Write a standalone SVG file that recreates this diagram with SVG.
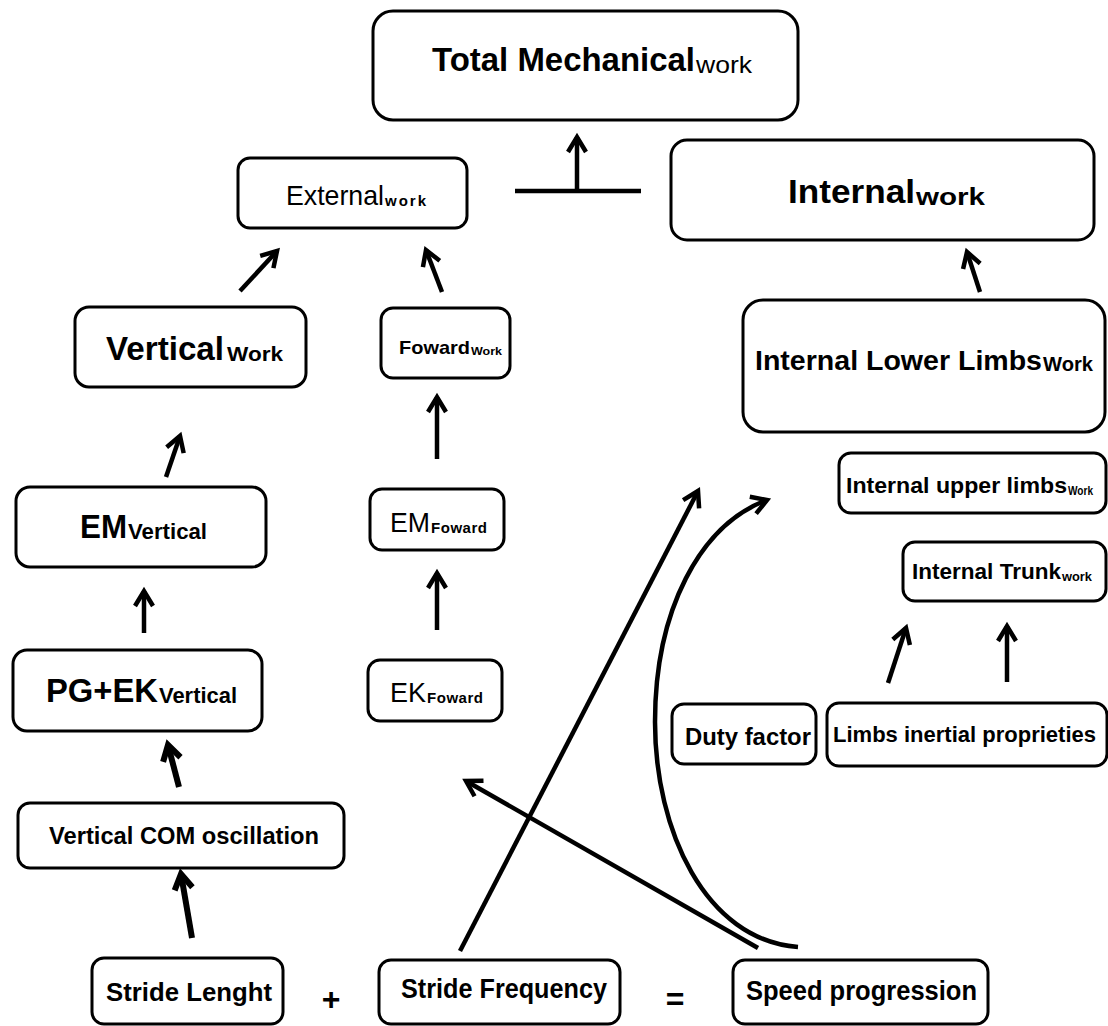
<svg xmlns="http://www.w3.org/2000/svg" width="1108" height="1026" viewBox="0 0 1108 1026">
<style>
.box{fill:#fff;stroke:#000;stroke-width:3}
.t{font-family:"Liberation Sans",Arial,sans-serif;fill:#000}
.b{font-weight:bold}
.c{fill:none;stroke:#000;stroke-width:4.5;stroke-linecap:butt}
.c6{fill:none;stroke:#000;stroke-width:6}
</style>
<defs>
<marker id="ah" markerUnits="userSpaceOnUse" orient="auto" overflow="visible" refX="0" refY="0" markerWidth="30" markerHeight="30">
<path d="M -15 -9 L 0 0 L -15 9" fill="none" stroke="#000" stroke-width="4.5"/>
</marker>
<marker id="ah6" markerUnits="userSpaceOnUse" orient="auto" overflow="visible" refX="0" refY="0" markerWidth="30" markerHeight="30">
<path d="M -15 -9 L 0 0 L -15 9" fill="none" stroke="#000" stroke-width="6"/>
</marker>
</defs>
<rect width="1108" height="1026" fill="#fff"/>

<g id="connectors">
<line class="c" x1="515" y1="191" x2="641" y2="191"/>
<line class="c" x1="577" y1="191" x2="577" y2="137" marker-end="url(#ah)"/>
<line class="c" x1="240" y1="291" x2="277" y2="251" marker-end="url(#ah)"/>
<line class="c" x1="442" y1="292" x2="426" y2="250" marker-end="url(#ah)"/>
<line class="c" x1="980" y1="292" x2="967" y2="252" marker-end="url(#ah)"/>
<line class="c" x1="166" y1="477" x2="180" y2="436" marker-end="url(#ah)"/>
<line class="c" x1="437" y1="459" x2="437" y2="397" marker-end="url(#ah)"/>
<line class="c" x1="144" y1="633" x2="144" y2="591" marker-end="url(#ah)"/>
<line class="c" x1="437" y1="630" x2="437" y2="573" marker-end="url(#ah)"/>
<line class="c6" x1="179" y1="787" x2="168" y2="745" marker-end="url(#ah6)"/>
<line class="c6" x1="192" y1="938" x2="181" y2="874" marker-end="url(#ah6)"/>
<line class="c" x1="888" y1="683" x2="906" y2="628" marker-end="url(#ah)"/>
<line class="c" x1="1007" y1="682" x2="1007" y2="626" marker-end="url(#ah)"/>
<line class="c" x1="460" y1="951" x2="698" y2="491" marker-end="url(#ah)"/>
<line class="c" x1="758" y1="948" x2="466" y2="781" marker-end="url(#ah)"/>
<path class="c" d="M 798 947 C 705 940, 655 830, 655 722 C 655 610, 700 525, 767 500" marker-end="url(#ah)"/>
</g>

<g id="total">
<rect class="box" x="373" y="11" width="425" height="109" rx="20"/>
<text class="t" y="71"><tspan x="432" font-size="33" font-weight="bold" textLength="263" lengthAdjust="spacingAndGlyphs">Total Mechanical</tspan><tspan x="696" y="73" font-size="24" textLength="56" lengthAdjust="spacingAndGlyphs">work</tspan></text>
</g>
<g id="external">
<rect class="box" x="238" y="158" width="229" height="70" rx="12"/>
<text class="t" y="205"><tspan x="286" font-size="28" textLength="98" lengthAdjust="spacingAndGlyphs">External</tspan><tspan x="385" y="206" font-size="15" font-weight="bold" textLength="41">work</tspan></text>
</g>
<g id="internal">
<rect class="box" x="671" y="140" width="423" height="100" rx="16"/>
<text class="t b" y="203"><tspan x="788" font-size="34" textLength="127" lengthAdjust="spacingAndGlyphs">Internal</tspan><tspan x="916" y="205" font-size="23" textLength="69" lengthAdjust="spacingAndGlyphs">work</tspan></text>
</g>
<g id="vertical-work">
<rect class="box" x="75" y="307" width="231" height="80" rx="14"/>
<text class="t b" y="360"><tspan x="106" font-size="33" textLength="118" lengthAdjust="spacingAndGlyphs">Vertical</tspan><tspan x="227" y="361" font-size="21" textLength="56" lengthAdjust="spacingAndGlyphs">Work</tspan></text>
</g>
<g id="foward-work">
<rect class="box" x="381" y="308" width="129" height="70" rx="12"/>
<text class="t b" y="354"><tspan x="399" font-size="19" textLength="71" lengthAdjust="spacingAndGlyphs">Foward</tspan><tspan x="471" y="355" font-size="11" textLength="31" lengthAdjust="spacingAndGlyphs">Work</tspan></text>
</g>
<g id="internal-lower">
<rect class="box" x="743" y="300" width="362" height="132" rx="20"/>
<text class="t b" y="370"><tspan x="755" font-size="28" textLength="287" lengthAdjust="spacingAndGlyphs">Internal Lower Limbs</tspan><tspan x="1043" y="371" font-size="20" textLength="50" lengthAdjust="spacingAndGlyphs">Work</tspan></text>
</g>
<g id="em-vertical">
<rect class="box" x="16" y="487" width="250" height="80" rx="14"/>
<text class="t b" y="538"><tspan x="80" font-size="33" textLength="47" lengthAdjust="spacingAndGlyphs">EM</tspan><tspan x="128" y="539" font-size="22" textLength="79" lengthAdjust="spacingAndGlyphs">Vertical</tspan></text>
</g>
<g id="em-foward">
<rect class="box" x="370" y="489" width="134" height="61" rx="12"/>
<text class="t" y="532"><tspan x="390" font-size="27" textLength="40" lengthAdjust="spacingAndGlyphs">EM</tspan><tspan x="431" y="533" font-size="15" font-weight="bold" textLength="56">Foward</tspan></text>
</g>
<g id="internal-upper">
<rect class="box" x="839" y="453" width="267" height="60" rx="12"/>
<text class="t b" y="493"><tspan x="846" font-size="22" textLength="221" lengthAdjust="spacingAndGlyphs">Internal upper limbs</tspan><tspan x="1068" y="495" font-size="13" textLength="25" lengthAdjust="spacingAndGlyphs">Work</tspan></text>
</g>
<g id="internal-trunk">
<rect class="box" x="903" y="542" width="203" height="59" rx="12"/>
<text class="t b" y="579"><tspan x="912" font-size="22" textLength="149" lengthAdjust="spacingAndGlyphs">Internal Trunk</tspan><tspan x="1062" y="581" font-size="13" textLength="30" lengthAdjust="spacingAndGlyphs">work</tspan></text>
</g>
<g id="pg-ek-vertical">
<rect class="box" x="13" y="650" width="249" height="81" rx="14"/>
<text class="t b" y="702"><tspan x="46" font-size="33" textLength="112" lengthAdjust="spacingAndGlyphs">PG+EK</tspan><tspan x="159" y="703" font-size="22" textLength="78" lengthAdjust="spacingAndGlyphs">Vertical</tspan></text>
</g>
<g id="ek-foward">
<rect class="box" x="368" y="660" width="134" height="61" rx="12"/>
<text class="t" y="702"><tspan x="390" font-size="27" textLength="36" lengthAdjust="spacingAndGlyphs">EK</tspan><tspan x="427" y="703" font-size="15" font-weight="bold" textLength="56">Foward</tspan></text>
</g>
<g id="duty-factor">
<rect class="box" x="672" y="704" width="144" height="60" rx="12"/>
<text class="t b" x="685" y="745" font-size="23" textLength="126" lengthAdjust="spacingAndGlyphs">Duty factor</text>
</g>
<g id="limbs-inertial">
<rect class="box" x="827" y="703" width="280" height="63" rx="12"/>
<text class="t b" x="833" y="742" font-size="22" textLength="263" lengthAdjust="spacingAndGlyphs">Limbs inertial proprieties</text>
</g>
<g id="vertical-com">
<rect class="box" x="18" y="803" width="326" height="65" rx="12"/>
<text class="t b" x="49" y="844" font-size="23" textLength="270" lengthAdjust="spacingAndGlyphs">Vertical COM oscillation</text>
</g>
<g id="stride-lenght">
<rect class="box" x="92" y="958" width="191" height="66" rx="12"/>
<text class="t b" x="106" y="1001" font-size="26" textLength="166" lengthAdjust="spacingAndGlyphs">Stride Lenght</text>
</g>
<g id="stride-frequency">
<rect class="box" x="379" y="960" width="241" height="64" rx="12"/>
<text class="t b" x="401" y="998" font-size="27" textLength="206" lengthAdjust="spacingAndGlyphs">Stride Frequency</text>
</g>
<g id="speed-progression">
<rect class="box" x="733" y="960" width="255" height="64" rx="12"/>
<text class="t b" x="746" y="1000" font-size="27" textLength="231" lengthAdjust="spacingAndGlyphs">Speed progression</text>
</g>
<text class="t b" x="331" y="1010" font-size="32" text-anchor="middle">+</text>
<text class="t b" x="675" y="1010" font-size="32" text-anchor="middle">=</text>
</svg>
